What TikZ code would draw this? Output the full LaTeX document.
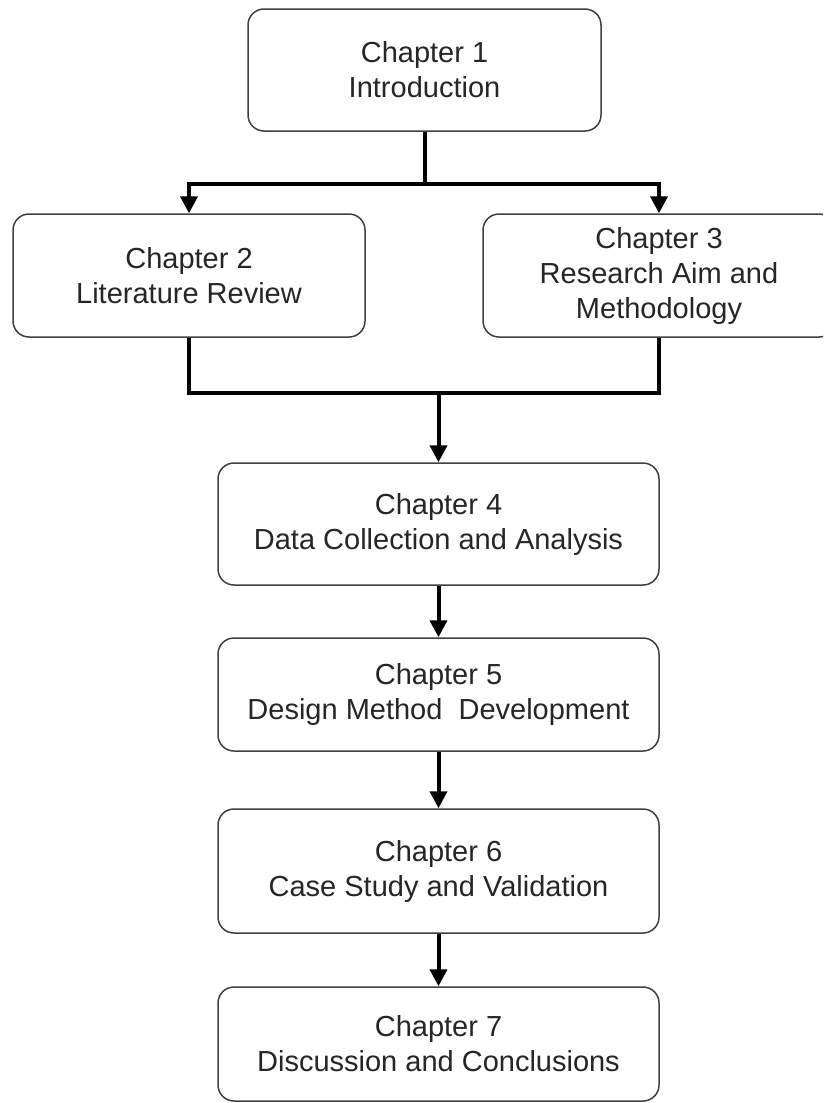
\documentclass[tikz,border=0pt]{standalone}
\usepackage{fontspec}
\setmainfont{Liberation Sans}
\usetikzlibrary{arrows.meta}
\begin{document}
\begin{tikzpicture}[x=1pt,y=-1pt,
  chapbox/.style={draw=black!75, line width=1.5pt, rounded corners=16pt,
    fill=white, align=center, text=black!85, inner sep=0pt,
    font=\fontsize{29}{35}\selectfont},
  link/.style={line width=4pt, black, line join=miter},
  arr/.style={link, -{Triangle[length=17pt,width=17pt]}}]
\path[use as bounding box, clip] (0,0) rectangle (823,1103);

% chapter boxes
\node[chapbox, minimum width=353pt, minimum height=122pt] (c1) at (424.5,70) {Chapter 1\\Introduction};
\node[chapbox, minimum width=352pt, minimum height=123pt] (c2) at (189,275.5) {Chapter 2\\Literature Review};
\node[chapbox, minimum width=352pt, minimum height=123pt] (c3) at (659,275.5) {Chapter 3\\Research Aim and\\Methodology};
\node[chapbox, minimum width=441pt, minimum height=122pt] (c4) at (438.5,524) {Chapter 4\\Data Collection and Analysis};
\node[chapbox, minimum width=441pt, minimum height=113pt] (c5) at (438.5,694.5) {Chapter 5\\Design Method~~Development};
\node[chapbox, minimum width=441pt, minimum height=124pt] (c6) at (438.5,871) {Chapter 6\\Case Study and Validation};
\node[chapbox, minimum width=441pt, minimum height=114pt] (c7) at (438.5,1044) {Chapter 7\\Discussion and Conclusions};

% branching from chapter 1
\coordinate (split) at (424.5,184);
\draw[link] (c1.south) -- (split);
\draw[arr] (split) -| (c2.north);
\draw[arr] (split) -| (c3.north);

% merging into chapter 4
\coordinate (merge) at (438.5,393);
\draw[link] (c2.south) |- (merge);
\draw[link] (c3.south) |- (merge);
\draw[arr] (merge) -- (c4.north);

% sequential chapters
\draw[arr] (c4.south) -- (c5.north);
\draw[arr] (c5.south) -- (c6.north);
\draw[arr] (c6.south) -- (c7.north);
\end{tikzpicture}
\end{document}
